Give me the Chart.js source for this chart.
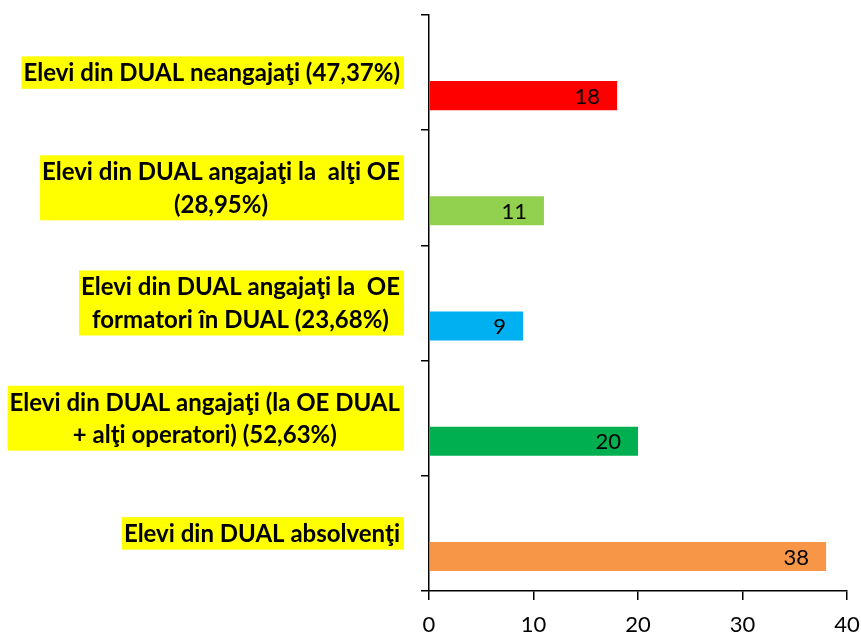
<!DOCTYPE html>
<html>
<head>
<meta charset="utf-8">
<style>
    body {
        margin: 0;
        background: #ffffff;
    }
    #wrap {
        width: 861px;
        height: 636px;
    }
</style>
</head>
<body>
<div id="wrap">
    <canvas id="chart" width="861" height="636"></canvas>
</div>
<script src="https://cdn.jsdelivr.net/npm/chart.js"></script>
<script>
    // categories, top to bottom (each one split into its printed lines)
    const categories = [
        ['Elevi din DUAL neangajaţi (47,37%)'],
        ['Elevi din DUAL angajaţi la  alţi OE', '(28,95%)'],
        ['Elevi din DUAL angajaţi la  OE', 'formatori în DUAL (23,68%)'],
        ['Elevi din DUAL angajaţi (la OE DUAL', '+ alţi operatori) (52,63%)'],
        ['Elevi din DUAL absolvenţi']
    ];
    const values = [18, 11, 9, 20, 38];
    const barColors = ['#FF0000', '#92D050', '#00B0F0', '#00B050', '#F79646'];
    const xTicks = [0, 10, 20, 30, 40];

    const LABEL_FONT = 'bold 24px Lato';
    const LINE_H = 32.5;

    // yellow highlighted category labels, drawn left of the axis
    const categoryLabels = {
        id: 'categoryLabels',
        afterDraw(chart) {
            const ctx = chart.ctx;
            const yScale = chart.scales.y;
            ctx.save();
            ctx.font = LABEL_FONT;
            ctx.textAlign = 'center';
            ctx.textBaseline = 'middle';
            categories.forEach((lines, i) => {
                const cy = yScale.getPixelForValue(i);
                const w = Math.max(...lines.map(l => ctx.measureText(l).width));
                const h = lines.length * LINE_H;
                const right = 404;
                const left = right - w - 6;
                ctx.fillStyle = '#FFFF00';
                ctx.fillRect(left, cy - h / 2, right - left, h);
                ctx.fillStyle = '#000000';
                lines.forEach((l, j) => {
                    ctx.fillText(l, (left + right) / 2 - 1, cy - h / 2 + LINE_H * (j + 0.5) + 1);
                });
            });
            ctx.restore();
        }
    };

    // value labels inside the end of each bar
    const valueLabels = {
        id: 'valueLabels',
        afterDatasetsDraw(chart) {
            const ctx = chart.ctx;
            const meta = chart.getDatasetMeta(1);
            ctx.save();
            ctx.font = '22px Lato';
            ctx.fillStyle = '#000000';
            ctx.textAlign = 'right';
            ctx.textBaseline = 'middle';
            meta.data.forEach((bar, i) => {
                ctx.fillText(values[i], bar.x - 17, bar.y + 1);
            });
            ctx.restore();
        }
    };

    const ctx = document.getElementById('chart').getContext('2d');
    new Chart(ctx, {
        type: 'bar',
        data: {
            labels: categories,
            datasets: [{
                // empty slot so the bar sits in the lower half of its band
                data: values.map(() => null),
                backgroundColor: 'rgba(0,0,0,0)'
            }, {
                data: values,
                backgroundColor: barColors,
                borderWidth: 0
            }]
        },
        options: {
            indexAxis: 'y',
            responsive: false,
            animation: false,
            categoryPercentage: 0.8,
            barPercentage: 0.63,
            layout: {
                padding: { top: 15, right: 14, left: 0, bottom: 0 }
            },
            plugins: {
                legend: { display: false },
                tooltip: { enabled: false }
            },
            scales: {
                x: {
                    min: 0,
                    max: 40,
                    afterBuildTicks: (scale) => {
                        scale.ticks = xTicks.map(v => ({ value: v }));
                    },
                    afterFit: (scale) => {
                        scale.height = 45;
                        scale.paddingRight = 0;
                        scale.paddingLeft = 0;
                    },
                    grid: {
                        drawOnChartArea: false,
                        drawTicks: true,
                        tickLength: 9,
                        color: '#000000',
                        lineWidth: 1.5
                    },
                    border: { display: true, color: '#000000', width: 1.5 },
                    ticks: {
                        color: '#000000',
                        font: { family: 'Lato', size: 22 },
                        padding: 12
                    }
                },
                y: {
                    afterFit: (scale) => { scale.width = 429; },
                    grid: {
                        offset: true,
                        drawOnChartArea: false,
                        drawTicks: true,
                        tickLength: 8,
                        color: '#000000',
                        lineWidth: 1.5
                    },
                    border: { display: true, color: '#000000', width: 1.5 },
                    ticks: { display: false }
                }
            }
        },
        plugins: [categoryLabels, valueLabels]
    });
</script>
</body>
</html>
